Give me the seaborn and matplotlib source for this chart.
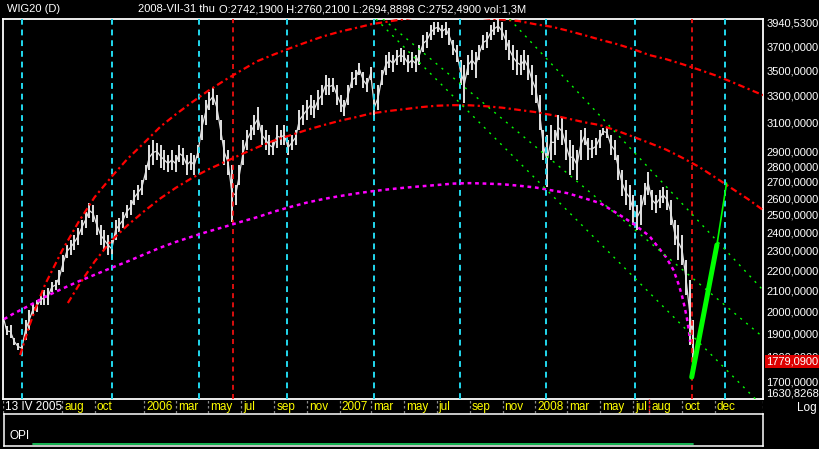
import pandas as pd
import matplotlib
matplotlib.use("Agg")
import matplotlib.pyplot as plt
import matplotlib.dates as mdates
from matplotlib.ticker import NullLocator
import seaborn as sns

# ---------------------------------------------------------------------------
# Data (weekly high / low envelope)
# ---------------------------------------------------------------------------
week_start = "2005-04-13"
week_high = [
    2005, 1930, 1936, 1878, 1857, 1853, 1959, 2005, 2035, 2052,
    2076, 2100, 2110, 2140, 2150, 2200, 2278, 2332, 2359, 2386,
    2425, 2471, 2518, 2570, 2558, 2500, 2442, 2414, 2386, 2359,
    2471, 2483, 2518, 2558, 2588, 2649, 2680, 2711, 2807, 2941,
    2975, 2958, 2941, 2907, 2873, 2907, 2873, 2941, 2924, 2873,
    2890, 2873, 2941, 3153, 3264, 3325, 3357, 3302, 3116, 2975,
    2907, 2807, 2680, 2807, 2975, 3045, 3080, 3153, 3211, 3080,
    3045, 3010, 2975, 3080, 3045, 3080, 2975, 3010, 3045, 3189,
    3227, 3264, 3302, 3264, 3341, 3380, 3459, 3435, 3435, 3380,
    3302, 3264, 3380, 3484, 3500, 3557, 3484, 3435, 3525, 3302,
    3380, 3500, 3624, 3650, 3624, 3666, 3683, 3666, 3624, 3650,
    3624, 3709, 3796, 3822, 3885, 3913, 3913, 3885, 3913, 3858,
    3752, 3709, 3582, 3541, 3624, 3666, 3650, 3709, 3796, 3822,
    3885, 3913, 3931, 3913, 3840, 3752, 3709, 3666, 3624, 3666,
    3624, 3541, 3459, 3302, 3045, 3010, 3080, 3045, 3153, 3131,
    3045, 2975, 2941, 2907, 3045, 3062, 2990, 2975, 2990, 3045,
    3062, 3062, 3010, 2975, 2873, 2775, 2711, 2680, 2618, 2558,
    2618, 2692, 2762, 2649, 2618, 2649, 2668, 2649, 2588, 2471,
    2442, 2386, 2252, 2150, 1959,
]
week_low = [
    1950, 1890, 1878, 1849, 1827, 1818, 1870, 1914, 1982, 1995,
    2028, 2028, 2028, 2090, 2100, 2125, 2190, 2262, 2278, 2305,
    2332, 2386, 2425, 2483, 2460, 2386, 2332, 2305, 2278, 2262,
    2359, 2403, 2425, 2483, 2500, 2558, 2588, 2618, 2711, 2775,
    2807, 2840, 2788, 2775, 2762, 2775, 2762, 2827, 2807, 2743,
    2775, 2743, 2853, 2975, 3080, 3189, 3227, 3116, 2975, 2807,
    2743, 2460, 2558, 2680, 2807, 2907, 2975, 3010, 3045, 2941,
    2907, 2873, 2873, 2924, 2941, 2941, 2873, 2907, 2941, 3045,
    3080, 3116, 3153, 3131, 3189, 3227, 3302, 3302, 3325, 3227,
    3175, 3145, 3227, 3357, 3380, 3459, 3357, 3325, 3419, 3123,
    3189, 3380, 3459, 3516, 3484, 3541, 3566, 3541, 3484, 3516,
    3484, 3541, 3649, 3683, 3752, 3796, 3822, 3770, 3796, 3709,
    3624, 3566, 3380, 3241, 3459, 3500, 3435, 3582, 3666, 3683,
    3752, 3796, 3822, 3752, 3666, 3582, 3500, 3459, 3459, 3500,
    3419, 3302, 3241, 3045, 2840, 2665, 2840, 2873, 2975, 2941,
    2840, 2743, 2775, 2711, 2840, 2941, 2840, 2853, 2873, 2924,
    3010, 2990, 2873, 2840, 2711, 2612, 2558, 2529, 2442, 2414,
    2442, 2558, 2618, 2529, 2512, 2541, 2570, 2529, 2442, 2332,
    2252, 2226, 2076, 1849, 1770,
]
last_close = 1779.09

# outer red arc
arc_outer_dates = [
    "2005-05-15", "2005-06-01", "2005-06-15", "2005-07-01", "2005-08-01",
    "2005-09-01", "2005-10-01", "2005-11-01", "2005-12-01", "2006-01-01",
    "2006-02-01", "2006-03-01", "2006-04-01", "2006-05-01", "2006-06-01",
    "2006-07-01", "2006-08-01", "2006-09-01", "2006-10-01", "2006-11-01",
    "2006-12-01", "2007-01-01", "2007-02-01", "2007-03-01", "2007-04-01",
    "2007-07-01", "2007-11-01", "2007-12-01", "2008-01-01", "2008-02-01",
    "2008-03-01", "2008-04-01", "2008-05-01", "2008-06-01", "2008-07-01",
    "2008-08-01", "2008-09-01", "2008-10-01", "2008-11-01", "2008-12-01",
    "2009-01-01", "2009-02-01", "2009-03-01",
]
arc_outer_vals = [
    1806, 1932, 2028, 2130, 2300, 2460, 2606, 2730, 2847, 2955,
    3070, 3157, 3249, 3336, 3419, 3496, 3574, 3630, 3683, 3735,
    3784, 3826, 3860, 3893, 3917, 3985, 3935, 3922, 3893, 3870,
    3836, 3796, 3756, 3718, 3675, 3624, 3590, 3549, 3504, 3459,
    3406, 3351, 3302,
]

# middle red arc
arc_mid_dates = [
    "2005-08-12", "2005-09-01", "2005-10-01", "2005-11-01", "2005-12-01",
    "2006-01-01", "2006-02-01", "2006-03-01", "2006-04-01", "2006-05-01",
    "2006-06-01", "2006-07-01", "2006-08-01", "2006-09-01", "2006-10-01",
    "2006-11-01", "2006-12-01", "2007-01-01", "2007-02-01", "2007-03-01",
    "2007-04-01", "2007-05-01", "2007-06-01", "2007-07-01", "2007-08-01",
    "2007-09-01", "2007-10-01", "2007-11-01", "2007-12-01", "2008-01-01",
    "2008-02-01", "2008-03-01", "2008-04-01", "2008-05-01", "2008-06-01",
    "2008-07-01", "2008-08-01", "2008-09-01", "2008-10-01", "2008-11-01",
    "2008-12-01", "2009-01-01", "2009-02-01", "2009-03-01",
]
arc_mid_vals = [
    2038, 2122, 2244, 2355, 2440, 2521, 2599, 2662, 2725, 2779,
    2828, 2877, 2926, 2972, 3008, 3046, 3079, 3111, 3138, 3165,
    3182, 3196, 3211, 3222, 3226, 3225, 3218, 3207, 3191, 3175,
    3153, 3128, 3101, 3080, 3041, 2999, 2955, 2910, 2856, 2797,
    2730, 2661, 2594, 2529,
]

# magenta arc
arc_low_dates = [
    "2005-04-15", "2005-05-01", "2005-06-01", "2005-07-01", "2005-08-01",
    "2005-09-01", "2005-10-01", "2005-11-01", "2005-12-01", "2006-01-01",
    "2006-02-01", "2006-03-01", "2006-04-01", "2006-05-01", "2006-06-01",
    "2006-07-01", "2006-08-01", "2006-09-01", "2006-10-01", "2006-11-01",
    "2006-12-01", "2007-01-01", "2007-02-01", "2007-03-01", "2007-04-01",
    "2007-05-01", "2007-06-01", "2007-07-01", "2007-08-01", "2007-09-01",
    "2007-10-01", "2007-11-01", "2007-12-01", "2008-01-01", "2008-02-01",
    "2008-03-01", "2008-04-01", "2008-05-01", "2008-06-01", "2008-07-01",
    "2008-08-01", "2008-09-01", "2008-09-15", "2008-09-25", "2008-10-01",
    "2008-10-05", "2008-10-10", "2008-10-14", "2008-10-16",
]
arc_low_vals = [
    1963, 1986, 2026, 2068, 2106, 2143, 2176, 2211, 2244, 2281,
    2318, 2348, 2378, 2406, 2433, 2461, 2488, 2520, 2547, 2573,
    2594, 2612, 2628, 2641, 2653, 2663, 2672, 2680, 2689, 2692,
    2689, 2685, 2676, 2665, 2647, 2630, 2600, 2570, 2511, 2452,
    2381, 2267, 2200, 2125, 2071, 2028, 1968, 1906, 1862,
]

# green channel lines (start / end)
chan1_dates = ["2007-11-14", "2009-03-01"]
chan1_vals = [3940.53, 2100]
chan2_dates = ["2007-03-23", "2009-03-01"]
chan2_vals = [3940.53, 1883]
chan3_dates = ["2007-03-10", "2009-02-15"]
chan3_vals = [3940.53, 1630.83]

# green projection
proj_dates = ["2008-10-19", "2008-12-05"]
proj_vals = [1716, 2332]
proj_ext_dates = ["2008-12-05", "2008-12-23"]
proj_ext_vals = [2332, 2692]

# vertical markers
cycle_dates = ["2005-05-18", "2005-11-02", "2006-04-13", "2006-09-24", "2007-03-06",
               "2007-08-14", "2008-01-22", "2008-07-05", "2008-12-21"]
turn_dates = ["2006-06-16", "2008-10-19"]
cursor_date = "2008-07-31"

# axis labels
price_ticks = [3940.53, 3700, 3500, 3300, 3100, 2900, 2800, 2700, 2600, 2500,
               2400, 2300, 2200, 2100, 2000, 1900, 1800, 1700, 1630.8268]
month_dates = ["2005-04-13", "2005-08-01", "2005-10-01", "2006-01-01", "2006-03-01",
               "2006-05-01", "2006-07-01", "2006-09-01", "2006-11-01", "2007-01-01",
               "2007-03-01", "2007-05-01", "2007-07-01", "2007-09-01", "2007-11-01",
               "2008-01-01", "2008-03-01", "2008-05-01", "2008-07-01", "2008-08-01",
               "2008-10-01", "2008-12-01"]
month_labels = ["13 IV 2005", "aug", "oct", "2006", "mar", "may", "jul", "sep", "nov",
                "2007", "mar", "may", "jul", "sep", "nov", "2008", "mar", "may", "jul",
                "aug", "oct", "dec"]

opi_dates = ["2005-06-06", "2008-10-22"]
opi_vals = [0, 0]

X0, X1 = pd.Timestamp("2005-04-13"), pd.Timestamp("2009-03-01")

# ---------------------------------------------------------------------------
# Style
# ---------------------------------------------------------------------------
sns.set_theme(style="dark", rc={
    "figure.facecolor": "black",
    "axes.facecolor": "black",
    "axes.edgecolor": "white",
    "axes.grid": False,
    "text.color": "white",
    "xtick.color": "white",
    "ytick.color": "white",
})
plt.rcParams["font.family"] = ["Liberation Sans", "DejaVu Sans"]
plt.rcParams["font.size"] = 8

W, H = 820, 449
fig = plt.figure(figsize=(W / 100, H / 100), dpi=100)


def box(l, t, r, b):
    return [l / W, 1 - b / H, (r - l) / W, (b - t) / H]


def to_num(dates):
    return mdates.date2num(pd.to_datetime(dates))


# ---------------------------------------------------------------------------
# Main price panel
# ---------------------------------------------------------------------------
ax = fig.add_axes(box(3, 19, 763, 399))
ax.set_yscale("log")

weeks = pd.date_range(week_start, periods=len(week_high), freq="7D")
price = pd.DataFrame({"date": weeks, "high": week_high, "low": week_low})
price["mid"] = (price["high"] + price["low"]) / 2

ax.vlines(mdates.date2num(price["date"]), price["low"], price["high"],
          color="#e2e2e2", lw=1.4, zorder=2)
sns.lineplot(data=price, x="date", y="mid", ax=ax, color="#e2e2e2", lw=0.9, zorder=2)

xt = ax.get_xaxis_transform()
ax.vlines(to_num(cycle_dates), 0, 1, transform=xt, color="#22d8ee", lw=1.4,
          linestyles=[(0, (3, 2.5))], zorder=3)
ax.vlines(to_num(turn_dates), 0, 1, transform=xt, color="#ff1010", lw=1.2,
          linestyles=[(0, (3, 2.5))], zorder=3)

sns.lineplot(x=pd.to_datetime(arc_outer_dates), y=arc_outer_vals, ax=ax,
             color="#ff0000", lw=1.6, linestyle=(0, (3, 1.5, 1, 1.5)), zorder=4)
sns.lineplot(x=pd.to_datetime(arc_mid_dates), y=arc_mid_vals, ax=ax,
             color="#ff0000", lw=1.6, linestyle=(0, (3, 1.5, 1, 1.5)), zorder=4)
sns.lineplot(x=pd.to_datetime(arc_low_dates), y=arc_low_vals, ax=ax,
             color="#ff00ff", lw=1.8, linestyle=(0, (1.5, 1.5)), zorder=4)

for d, v in [(chan1_dates, chan1_vals), (chan2_dates, chan2_vals), (chan3_dates, chan3_vals)]:
    sns.lineplot(x=pd.to_datetime(d), y=v, ax=ax, color="#00ff00", lw=1.0,
                 linestyle=(0, (1.5, 4)), zorder=4)

sns.lineplot(x=pd.to_datetime(proj_dates), y=proj_vals, ax=ax,
             color="#00ff00", lw=3.6, zorder=5)
sns.lineplot(x=pd.to_datetime(proj_ext_dates), y=proj_ext_vals, ax=ax,
             color="#00ff00", lw=1.2, zorder=5)

ax.set_xlim(X0, X1)
ax.set_ylim(price_ticks[-1], price_ticks[0])
ax.set_xlabel("")
ax.set_ylabel("")
ax.set_xticks([])
ax.yaxis.tick_right()
ax.set_yticks(price_ticks)
ax.yaxis.set_minor_locator(NullLocator())
ax.set_yticklabels([f"{v:.4f}".replace(".", ",") for v in price_ticks])
ax.tick_params(axis="y", length=0, pad=2.5, labelsize=8, colors="white")
labels = ax.get_yticklabels()
labels[0].set_va("top")
labels[-1].set_va("bottom")
for s in ax.spines.values():
    s.set_color("white")
    s.set_linewidth(1.3)

ax.annotate(f"{last_close:.4f}".replace(".", ","), xy=(1, last_close),
            xycoords=("axes fraction", "data"), xytext=(2.5, 0),
            textcoords="offset points", ha="left", va="center", fontsize=8,
            color="white", annotation_clip=False,
            bbox=dict(boxstyle="square,pad=0.12", fc="#dd0000", ec="none"))

# ---------------------------------------------------------------------------
# Date row
# ---------------------------------------------------------------------------
dax = fig.add_axes(box(3, 399, 763, 414))
dax.set_facecolor("black")
dax.set_xlim(X0, X1)
dax.set_ylim(0, 1)
dax.axis("off")
dax.vlines(to_num(month_dates), 0.05, 0.95, color="#8a8a8a", lw=0.9,
           linestyles=[(0, (2, 2))])
dax.vlines(mdates.date2num(X1), 0.05, 0.95, color="#8a8a8a", lw=0.9,
           linestyles=[(0, (2, 2))])
dax.vlines(to_num([cursor_date]), 0, 1, color="#ff1010", lw=1.0,
           linestyles=[(0, (1.5, 1))])
for i, (d, t) in enumerate(zip(month_dates, month_labels)):
    dax.annotate(t, xy=(pd.Timestamp(d), 0.45), xytext=(1.5, 0),
                 textcoords="offset points", ha="left", va="center", fontsize=8.5,
                 color="white" if i == 0 else "#ffff00")

fig.text(817 / W, 1 - 408 / H, "Log", ha="right", va="center", fontsize=8.5, color="white")

# ---------------------------------------------------------------------------
# OPI panel
# ---------------------------------------------------------------------------
oax = fig.add_axes(box(4, 414, 763, 446))
oax.set_facecolor("black")
sns.lineplot(x=pd.to_datetime(opi_dates), y=opi_vals, ax=oax, color="#19c35a", lw=1.3)
oax.set_xlim(X0, X1)
oax.set_ylim(-0.1, 1.5)
oax.set_xticks([])
oax.set_yticks([])
oax.set_xlabel("")
oax.set_ylabel("")
for s in oax.spines.values():
    s.set_color("white")
    s.set_linewidth(1.1)
oax.text(6 / 759, 0.3, "OPI", transform=oax.transAxes, ha="left", va="center",
         fontsize=8.5, color="white")

# ---------------------------------------------------------------------------
# Header
# ---------------------------------------------------------------------------
fig.text(7 / W, 1 - 9 / H, "WIG20 (D)", ha="left", va="center", fontsize=8)
fig.text(138 / W, 1 - 9 / H, "2008-VII-31 thu", ha="left", va="center", fontsize=8)
fig.text(219 / W, 1 - 9 / H,
         "O:2742,1900 H:2760,2100 L:2694,8898 C:2752,4900 vol:1,3M",
         ha="left", va="center", fontsize=8)

fig.savefig("out.png", dpi=100, facecolor="black")
plt.close(fig)
